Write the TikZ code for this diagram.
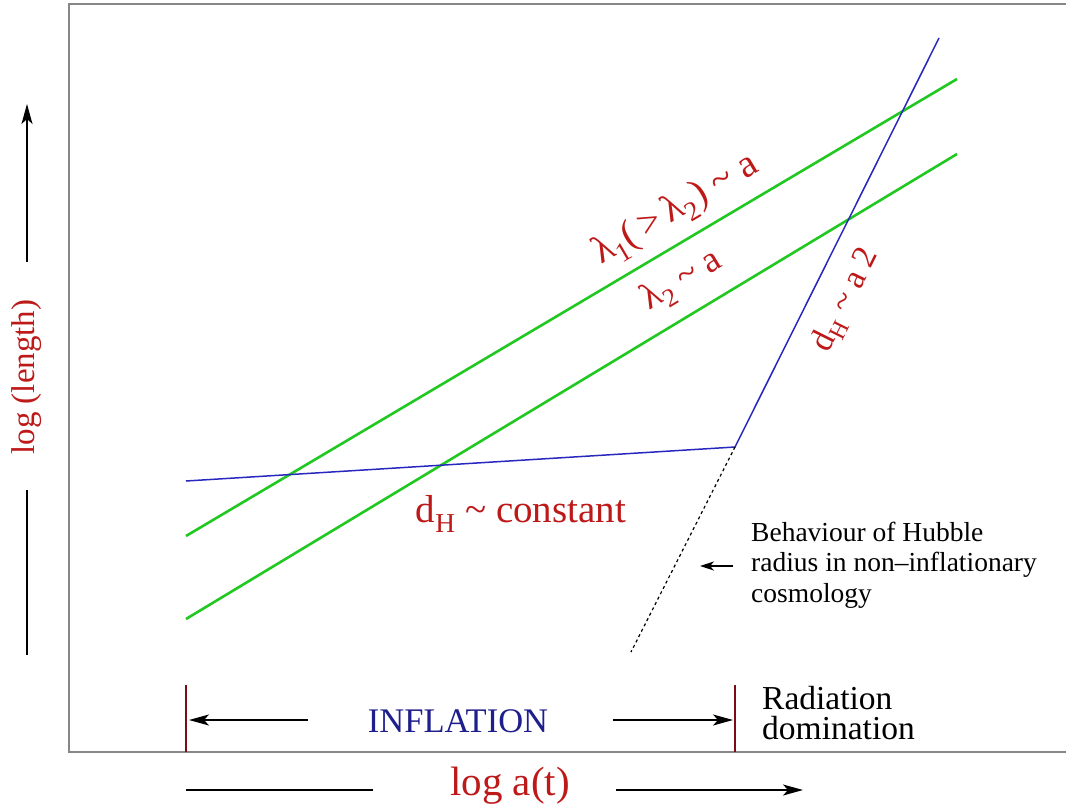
\documentclass[tikz,border=0pt]{standalone}
\usepackage{fontspec}
\setmainfont{Liberation Serif}
\usetikzlibrary{arrows.meta}
\definecolor{lgreen}{RGB}{34,200,34}
\definecolor{lblue}{RGB}{40,40,190}
\definecolor{lred}{RGB}{190,25,25}
\definecolor{lnavy}{RGB}{30,30,140}
\definecolor{lmaroon}{RGB}{125,10,20}
\definecolor{lframe}{RGB}{135,135,135}
\newcommand{\fs}[1]{\fontsize{#1}{#1}\selectfont}
\begin{document}
\begin{tikzpicture}[x=1pt,y=-1pt,
  frameline/.style={draw=lframe,line width=2pt},
  greenline/.style={draw=lgreen,line width=2.6pt},
  blueline/.style={draw=lblue,line width=1.5pt},
  dotline/.style={draw=black,line width=1.2pt,dash pattern=on 3pt off 3pt},
  tickline/.style={draw=lmaroon,line width=2pt},
  arr/.style={draw=black,line width=1.2pt,-{Stealth[length=20pt,width=11pt,inset=5pt]}},
  plain/.style={draw=black,line width=1.2pt},
  redlab/.style={text=lred,inner sep=0pt},
  blacklab/.style={text=black,inner sep=0pt}]
\useasboundingbox (0,0) rectangle (1066,806);
% frame
\coordinate (fbl) at (69,752);
\coordinate (ftl) at (69,4);
\coordinate (ftr) at (1070,4);
\coordinate (fbr) at (1070,752);
\draw[frameline] (ftr) -- (ftl) -- (fbl) -- (fbr);
% green lines
\coordinate (g1a) at (186,536);
\coordinate (g1b) at (957,79);
\coordinate (g2a) at (186,619);
\coordinate (g2b) at (957,154);
\draw[greenline] (g1a) -- (g1b);
\draw[greenline] (g2a) -- (g2b);
% blue
\coordinate (ba) at (186,481);
\coordinate (bk) at (735,447);
\coordinate (bb) at (939,38);
\coordinate (dend) at (631,652);
\draw[blueline] (ba) -- (bk) -- (bb);
\draw[dotline] (bk) -- (dend);
% ticks
\coordinate (t1a) at (186,685);
\coordinate (t1b) at (186,752);
\coordinate (t2a) at (735,685);
\coordinate (t2b) at (735,752);
\draw[tickline] (t1a) -- (t1b);
\draw[tickline] (t2a) -- (t2b);
% inflation arrows
\node[text=lnavy,inner sep=0pt,font=\fs{34.5}] (infl) at (458,721) {INFLATION};
\coordinate (ial) at (308,720);
\coordinate (iat) at (189,720);
\coordinate (iar) at (613,720);
\coordinate (iart) at (733,720);
\draw[arr] (ial) -- (iat);
\draw[arr] (iar) -- (iart);
\node[blacklab,font=\fs{33.5},align=left,anchor=west] (rad) at (762,713) {Radiation\\[-4pt]domination};
% bottom axis
\coordinate (xa) at (186,790);
\coordinate (xb) at (373,790);
\coordinate (xc) at (616,790);
\coordinate (xd) at (803,790);
\draw[plain] (xa) -- (xb);
\draw[arr] (xc) -- (xd);
\node[redlab,font=\fs{41}] (xlab) at (510,786) {log a(t)};
% left axis
\coordinate (ya) at (27,655);
\coordinate (yb) at (27,490);
\coordinate (yc) at (27,262);
\coordinate (yd) at (27,104);
\draw[plain] (ya) -- (yb);
\draw[arr] (yc) -- (yd);
\node[redlab,font=\fs{33},rotate=90] (ylab) at (27,377) {log (length)};
% labels
\node[redlab,font=\fs{39},rotate=30.65] (l1) at (676,210) {λ\textsubscript{1}(\,\textgreater\,λ\textsubscript{2}) \textasciitilde{} a};
\node[redlab,font=\fs{37},rotate=31.1] (l2) at (682,281) {λ\textsubscript{2} \textasciitilde{} a};
\node[redlab,font=\fs{34},rotate=63.5] (dh2) at (846,300) {d\textsubscript{H} \textasciitilde{} a 2};
\node[redlab,font=\fs{39}] (dhc) at (521,514) {d\textsubscript{H} \textasciitilde{} constant};
\node[blacklab,font=\fs{27.5},align=left,anchor=west] (beh) at (751,565) {Behaviour of Hubble\\[3pt]radius in non–inflationary\\[3pt]cosmology};
\coordinate (sa) at (733,566);
\coordinate (sb) at (700,566);
\draw[black,line width=1.2pt,-{Stealth[length=14pt,width=9pt,inset=4pt]}] (sa) -- (sb);
\end{tikzpicture}
\end{document}
